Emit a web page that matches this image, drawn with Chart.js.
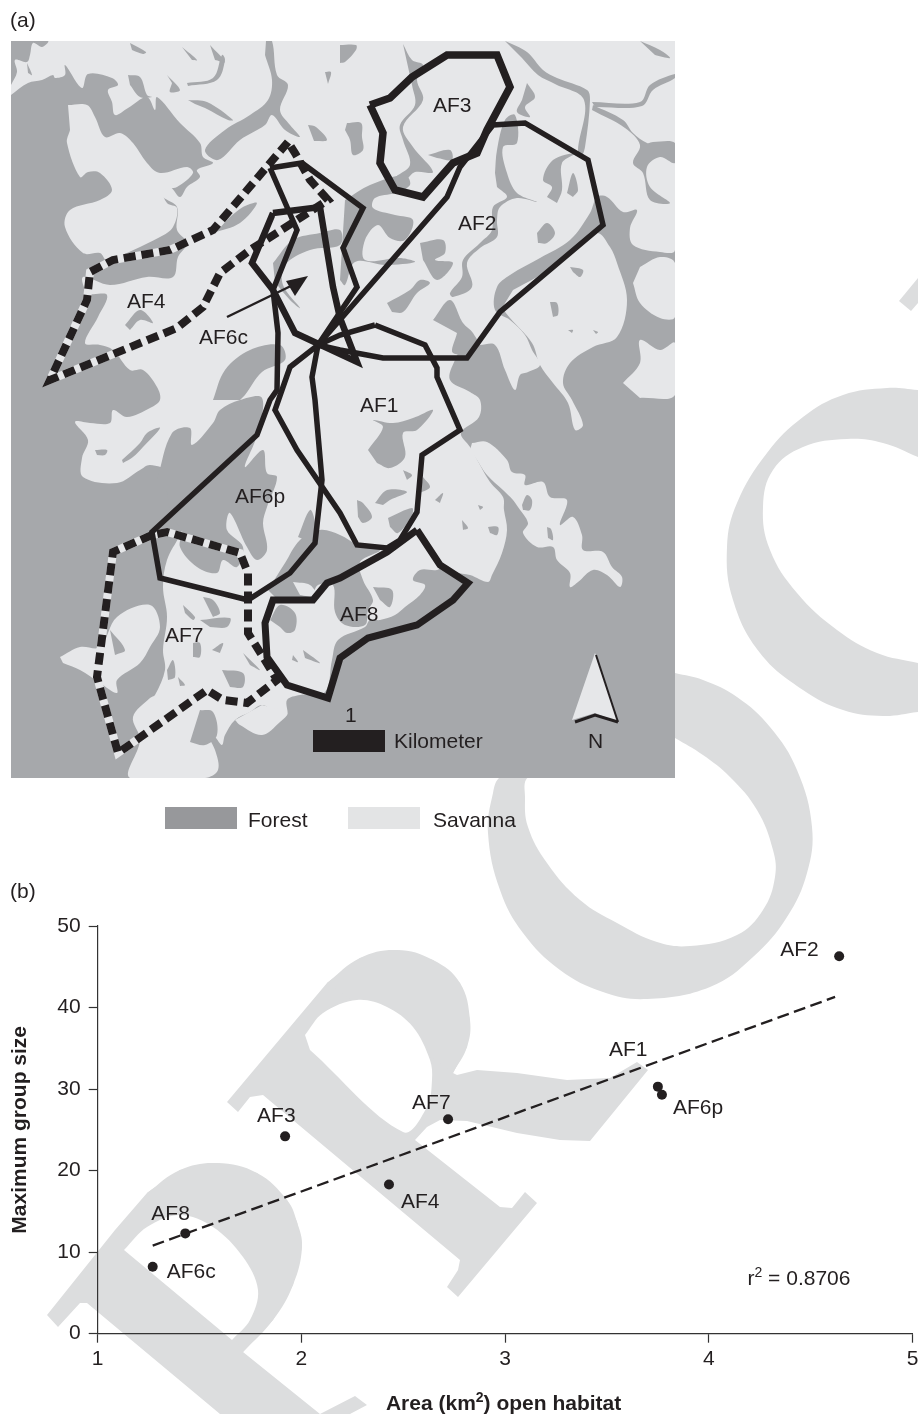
<!DOCTYPE html>
<html>
<head>
<meta charset="utf-8">
<title>Group size and open habitat</title>
<script src="https://cdn.jsdelivr.net/npm/chart.js@4"></script>
<style>
html,body{margin:0;padding:0;background:#fff;}
canvas{position:absolute;left:0;top:0;}
</style>
</head>
<body>
<canvas id="stampChart" width="918" height="1414"></canvas>
<canvas id="mapChart" width="918" height="1414"></canvas>
<canvas id="scatterChart" width="918" height="1414"></canvas>
<script>
/* -------------------------- scatter data (panel b) -------------------------- */
const groupNames=["AF2","AF1","AF6p","AF7","AF3","AF4","AF8","AF6c"];
const areaKm2=[4.64,3.75,3.77,2.72,1.92,2.43,1.43,1.27];
const maxGroupSize=[46.3,30.3,29.3,26.3,24.2,18.3,12.3,8.2];
const trendX=[1.27,4.62];
const trendY=[10.8,41.3];
const xTicks=[1,2,3,4,5];
const yTicks=[0,10,20,30,40,50];

/* -------------------------- map outlines, in map units (panel a) -------------------------- */
const mapFrame=[[11,41],[675,41],[675,778],[11,778]];
const savannaMain=[[11,41],[675,41],[675,250],[660,252],[633,245],[630,228],[637,210],[623,212],[607,197],[597,197],[590,213],[570,240],[540,258],[510,275],[497,287],[495,310],
  [510,320],[525,335],[532,350],[540,365],[528,372],[520,375],[515,390],[505,370],[495,345],[480,345],[465,345],[455,360],[450,380],[470,392],[480,400],[479,417],[461,433],[470,447],[480,465],[490,482],[503,497],[504,510],[507,530],[502,553],[492,575],[488,582],[470,575],[455,572],[445,565],[437,570],[420,570],[413,580],[425,585],[420,595],[405,607],[395,615],[380,620],[370,620],[365,627],[338,640],[332,660],[325,692],[300,695],[287,700],[287,715],[275,712],[262,705],[250,712],[235,720],[225,735],[222,745],[215,737],[205,730],[215,750],[218,770],[205,778],[130,778],[140,740],[133,717],[150,698],[155,695],[165,670],[163,650],[167,617],[163,587],[167,560],[180,535],[197,497],[177,490],[170,472],[150,465],[140,470],[117,483],[83,477],[82,458],[88,440],[75,422],[90,423],[110,423],[113,410],[127,417],[150,408],[160,400],[157,387],[143,370],[130,370],[113,350],[100,345],[85,343],[98,317],[107,295],[88,293],[83,277],[110,285],[147,277],[173,277],[178,257],[187,243],[177,230],[177,207],[163,197],[160,190],[170,187],[180,197],[187,187],[200,177],[197,170],[213,163],[203,157],[200,143],[180,123],[157,97],[155,110],[147,97],[128,108],[115,115],[112,102],[108,90],[118,85],[112,78],[88,74],[82,88],[65,65],[65,75],[55,78],[53,75],[42,80],[28,83],[11,95]];
const savannaLobe=[[68,105],[87,105],[95,117],[105,137],[120,133],[133,143],[147,163],[160,173],[187,167],[193,173],[177,187],[163,190],[167,203],[177,208],[173,227],[160,237],[107,260],[100,253],[83,253],[65,227],[70,210],[100,200],[112,190],[100,173],[88,172],[80,177],[67,143],[70,130]];
const savannaEast=[[513,290],[537,277],[553,267],[573,253],[597,233],[610,247],[617,263],[627,300],[617,337],[593,347],[570,363],[563,383],[572,400],[583,425],[575,430],[568,403],[553,383],[540,365],[532,343],[510,318],[502,308]];
const savannaIslandE=[[640,267],[660,257],[675,263],[675,317],[660,318],[640,303],[633,283]];
const savannaIslandSE=[[623,383],[640,363],[640,340],[660,350],[675,343],[675,395],[640,398]];
const savannaChain=[[472,443],[487,442],[507,460],[512,472],[525,475],[525,485],[543,482],[550,497],[567,500],[560,525],[573,517],[582,535],[583,550],[603,552],[612,567],[622,577],[620,587],[607,575],[593,570],[578,582],[570,587],[570,573],[557,560],[553,547],[537,547],[523,533],[528,523],[518,507],[513,500],[503,490],[487,475],[477,460],[470,450]];
const savannaWest=[[60,657],[80,647],[100,647],[117,617],[150,605],[160,627],[150,647],[140,663],[117,680],[117,693],[100,683],[80,670],[63,663]];
const savannaSouthTail=[[262,705],[287,713],[280,722],[262,735],[240,725],[235,720]];
const savannaSmall1=[[293,582],[310,585],[317,597],[300,595]];

const forestCorner=[[11,41],[48,41],[42,47],[33,43],[30,55],[27,62],[15,60],[17,72],[11,85]];
const forestNick=[[27,63],[32,75],[28,73]];
const forestNorthRiver=[[266,41],[272,41],[277,75],[288,85],[280,110],[290,125],[300,137],[285,130],[272,115],[265,125],[240,140],[218,160],[205,150],[225,130],[250,115],[268,100],[272,80],[265,55]];
const forestSpot1=[[128,75],[140,77],[147,95],[152,97],[140,97],[130,85]];
const forestSpot2=[[167,75],[180,90],[170,92],[172,83]];
const forestThread1=[[187,83],[213,78],[222,55],[225,60],[217,80],[188,86]];
const forestThread2=[[188,100],[207,102],[233,120],[228,120],[205,108],[195,104]];
const forestThread3=[[130,43],[146,52],[143,54],[132,50]];
const forestThread4=[[182,47],[197,60],[192,60]];
const forestThread5=[[210,45],[225,62],[215,60]];
const forestSpot3=[[308,125],[316,127],[327,140],[314,141]];
const forestSpot4=[[325,72],[331,72],[328,84]];
const forestBelowAF4=[[273,263],[293,240],[320,233],[340,230],[340,245],[310,250],[285,265],[283,285],[300,308],[290,300],[275,282]];
const forestPatchC=[[213,400],[225,370],[250,350],[280,345],[285,360],[262,372],[245,395],[240,400]];
const forestPatchAF4=[[125,325],[140,310],[153,323],[140,320],[130,330]];
const forestBandAF4=[[213,233],[240,223],[257,203],[243,207],[230,217]];
const forestNE=[[340,45],[356,45],[356,50],[345,62],[340,63]];
const forestAF3River=[[403,44],[412,60],[423,65],[417,80],[423,100],[403,127],[413,147],[433,172],[415,172],[405,180],[395,178],[410,165],[403,140],[400,125],[415,105],[412,85]];
const forestAF3Spot=[[428,155],[450,150],[452,160],[437,158]];
const forestCentre=[[345,200],[370,185],[405,175],[410,185],[395,193],[375,198],[373,208],[395,215],[413,220],[405,240],[390,238],[378,225],[365,240],[365,260],[400,258],[415,262],[385,265],[355,262],[345,285],[340,280]];
const forestAF2Oval=[[347,123],[361,123],[362,137],[363,150],[353,155],[350,140],[345,130]];
const forestAF2River=[[495,173],[497,150],[505,120],[515,115],[517,143],[503,147],[507,173],[517,193],[537,202],[517,198],[500,207],[497,220],[497,237],[480,248],[467,263],[472,287],[453,297],[450,293],[462,277],[463,260],[480,243],[492,230],[493,207],[507,197],[497,187]];
const forestAF2A=[[420,243],[443,240],[445,253],[435,260],[453,263],[437,280],[423,260]];
const forestAF2B=[[387,303],[410,290],[420,280],[430,283],[417,293],[403,312],[392,312]];
const forestAF2C=[[433,320],[450,300],[463,323],[473,333],[480,350],[453,353],[457,333]];
const forestAF2Round=[[537,233],[547,223],[555,233],[547,243],[538,243]];
const forestAF2Fork=[[547,197],[552,187],[543,180],[553,160],[577,153],[562,163],[562,190],[557,203]];
const forestAF2Drop=[[567,193],[573,173],[578,190],[573,197]];
const forestNERiver=[[505,41],[527,52],[543,70],[557,78],[587,90],[590,100],[585,147],[581,157],[578,150],[584,100],[555,84],[538,75],[522,58]];
const forestNEBranch=[[527,83],[535,97],[525,107],[530,117],[517,112],[522,100]];
const forestNERiver2=[[593,105],[623,120],[633,133],[647,143],[653,142],[675,143],[675,163],[660,157],[647,167],[650,187],[670,203],[650,200],[643,173],[633,163],[640,145],[625,128],[592,110]];
const forestNERiver3=[[592,102],[640,102],[650,85],[675,74],[675,78],[653,90],[642,106],[595,107]];
const forestNETick=[[640,41],[660,50],[670,58],[655,55]];
const forestEastA=[[550,302],[557,303],[558,315],[553,317]];
const forestEastB=[[570,267],[583,270],[580,277],[573,272]];
const forestEastC=[[568,330],[573,330],[572,333]];
const forestEastD=[[593,330],[598,332],[596,334]];
const forestLakeAF1=[[368,450],[383,427],[373,420],[393,423],[413,418],[433,410],[417,430],[403,433],[405,457],[390,468],[377,463]];
const forestAF1A=[[375,503],[387,490],[407,492],[390,500],[383,505]];
const forestAF1B=[[357,500],[363,503],[372,517],[363,523],[358,517]];
const forestAF1C=[[388,518],[412,508],[412,515],[398,533],[390,527]];
const forestAF1D=[[403,470],[412,475],[407,480]];
const forestAF1E=[[423,477],[430,487],[420,493]];
const forestAF1F=[[435,500],[443,493],[440,503]];
const forestAF1G=[[462,520],[468,528],[463,530]];
const forestAF1H=[[488,527],[498,527],[497,535],[490,533]];
const forestAF1I=[[478,505],[483,507],[480,510]];
const forestChainA=[[522,505],[527,495],[532,500],[530,510],[523,510]];
const forestChainB=[[547,527],[551,529],[553,540],[548,538]];
const forestAF6p=[[157,480],[172,433],[190,428],[192,445],[213,423],[220,410],[240,400],[262,398],[257,435],[245,467],[263,450],[267,473],[277,477],[267,507],[263,523],[267,550],[257,560],[247,547],[230,513],[227,530],[243,547],[237,567],[223,560],[217,573],[197,567],[180,547],[182,530],[172,517],[167,492]];
const forestCentreSouth=[[268,590],[285,563],[300,540],[320,530],[340,535],[358,545],[380,550],[360,562],[363,580],[373,600],[368,610],[365,625],[345,625],[335,612],[333,585],[318,585],[310,597],[275,597]];
const forestAF1South=[[298,537],[310,510],[315,523],[313,543]];
const forestRiverW=[[122,460],[140,443],[147,433],[160,428],[143,447],[133,457],[123,463]];
const forestSpotW=[[95,450],[107,450],[105,455],[97,455]];
const forestAF7A=[[203,597],[213,600],[220,613],[213,617]];
const forestAF7B=[[183,605],[195,617],[193,620],[185,613]];
const forestAF7C=[[200,620],[230,618],[227,627],[210,627]];
const forestAF7D=[[193,643],[200,643],[200,657],[193,657]];
const forestAF7E=[[212,650],[223,643],[220,653]];
const forestAF7F=[[243,653],[260,670],[250,665]];
const forestAF7G=[[167,670],[173,660],[175,677],[168,680]];
const forestAF7H=[[178,677],[185,685],[180,686]];
const forestAF7I=[[222,670],[243,673],[243,687],[230,687]];
const forestAF7J=[[200,710],[213,712],[217,735],[205,745],[190,742]];
const forestAF8A=[[270,620],[280,605],[295,613],[295,630],[287,633],[280,627]];
const forestAF8B=[[293,655],[298,662],[292,660]];
const forestAF8C=[[303,650],[320,663],[305,658]];
const forestAF8D=[[373,587],[392,590],[390,607],[380,600]];
const forestWestSpot=[[110,630],[125,650],[115,655]];

const savannaPolys=[savannaMain,savannaLobe,savannaEast,savannaIslandE,savannaIslandSE,savannaChain,savannaWest];
const forestPolys=[forestCorner,forestNick,forestNorthRiver,forestSpot1,forestSpot2,forestThread1,forestThread2,forestThread3,forestThread4,forestThread5,forestSpot3,forestSpot4,forestBelowAF4,forestPatchC,forestPatchAF4,forestBandAF4,forestNE,forestAF3River,forestAF3Spot,forestCentre,forestAF2Oval,forestAF2River,forestAF2A,forestAF2B,forestAF2C,forestAF2Round,forestAF2Fork,forestAF2Drop,forestNERiver,forestNEBranch,forestNERiver2,forestNERiver3,forestNETick,forestEastA,forestEastB,forestEastC,forestEastD,forestLakeAF1,forestAF1A,forestAF1B,forestAF1C,forestAF1D,forestAF1E,forestAF1F,forestAF1G,forestAF1H,forestAF1I,forestChainA,forestChainB,forestAF6p,forestCentreSouth,forestAF1South,forestRiverW,forestSpotW,forestAF7A,forestAF7B,forestAF7C,forestAF7D,forestAF7E,forestAF7F,forestAF7G,forestAF7H,forestAF7I,forestAF7J,forestAF8A,forestAF8B,forestAF8C,forestAF8D,forestWestSpot];
const savannaOnTop=[savannaSouthTail,savannaSmall1];

const rangeAF1=[[375,325],[425,345],[437,368],[437,377],[460,430],[422,455],[417,512],[400,540],[387,548],[357,545],[340,513],[297,450],[275,410],[290,367],[318,345],[340,335],[375,325]];
const rangeAF2=[[318,345],[447,197],[460,167],[493,125],[525,123],[588,160],[603,225],[500,312],[467,358],[383,358],[340,350],[318,345]];
const rangeAF3=[[370,105],[390,98],[412,77],[447,55],[497,55],[510,87],[487,130],[477,153],[453,163],[423,197],[395,190],[380,163],[383,133],[370,105]];
const rangeAF4=[[288,142],[213,230],[170,250],[113,260],[90,272],[87,300],[50,380],[177,328],[203,307],[220,273],[250,250],[328,200],[310,180],[295,153],[288,142]];
const rangeAF6c=[[273,213],[320,207],[333,287],[340,318],[357,362],[295,333],[273,290],[252,263],[273,213]];
const rangeAF6p=[[270,168],[302,163],[363,208],[343,248],[357,287],[318,345],[312,377],[315,400],[322,480],[315,543],[290,573],[248,600],[160,578],[152,532],[257,435],[270,400],[277,390],[278,333],[273,290],[297,230],[270,168]];
const rangeAF7=[[152,535],[113,552],[97,677],[118,753],[207,690],[223,700],[247,703],[277,680],[263,657],[248,633],[248,573],[240,553],[167,532],[152,535]];
const rangeAF8=[[417,530],[440,565],[468,583],[453,600],[417,625],[368,638],[340,658],[328,698],[287,685],[267,657],[265,623],[273,600],[313,600],[327,583],[340,578],[387,552],[417,530]];
const arrowShaft=[[227,317],[297,283]];
const arrowHead=[[308,276],[286,281],[295,296]];
const scaleBar=[[313,730],[385,730],[385,752],[313,752]];
const northFill=[[595,653],[572,720],[595,713],[618,722]];
const northEdgeRight=[[596,655],[618,722]];
const northEdgeBase=[[575,722],[595,715],[618,722]];
const legendForest=[[165,807],[237,807],[237,829],[165,829]];
const legendSavanna=[[348,807],[420,807],[420,829],[348,829]];

/* -------------------------- grey PROOF stamp behind the figure -------------------------- */
const stampPOuter=[[47,1315],[58,1327],[80,1303],[87,1303],[220,1414],[350,1414],[367,1405],[355,1396],[320,1414],[243,1352],[273,1320],[293,1285],[302,1247],[297,1222],[287,1200],[257,1173],[217,1163],[180,1170],[147,1193],[115,1230]];
const stampPBowl=[[243,1352],[273,1320],[293,1285],[302,1247],[297,1222],[287,1200],[257,1173],[217,1163],[180,1170],[147,1193]];
const stampPHole=[[124,1250],[147,1227],[180,1215],[213,1227],[243,1257],[258,1290],[250,1320],[232,1340]];
const stampROuter=[[227,1102],[238,1112],[250,1097],[263,1095],[460,1260],[458,1270],[447,1287],[458,1297],[537,1203],[525,1192],[512,1208],[500,1207],[415,1140],[427,1127],[440,1120],[467,1121],[517,1133],[560,1140],[590,1141],[648,1070],[637,1062],[610,1078],[567,1080],[517,1073],[477,1070],[457,1075],[453,1073],[467,1047],[470,1020],[460,983],[433,960],[397,950],[360,958],[327,983]];
const stampRBowl=[[453,1073],[467,1047],[470,1020],[460,983],[433,960],[397,950],[360,958],[327,983]];
const stampRHole=[[305,1035],[323,1013],[357,1000],[387,1007],[413,1027],[430,1060],[432,1080],[427,1107],[403,1132],[310,1050]];
const stampO1Outer=[[675,673],[703,680],[737,697],[770,727],[797,770],[812,827],[807,873],[787,917],[753,957],[710,987],[647,999],[603,992],[560,970],[523,933],[500,890],[488,833],[493,793],[500,777],[600,700]];
const stampO1Hole=[[675,738],[703,755],[730,777],[757,810],[773,850],[775,877],[763,910],[737,935],[690,946],[657,942],[617,923],[580,900],[547,863],[528,827],[525,797],[528,777],[600,720]];
const stampO2Outer=[[918,390],[887,388],[843,395],[803,417],[767,453],[737,503],[727,547],[733,600],[760,653],[803,690],[843,710],[883,716],[918,712]];
const stampO2Hole=[[918,457],[883,443],[847,439],[803,447],[773,470],[763,507],[770,550],[797,593],[837,630],[877,653],[918,663]];
const stampF=[[918,278],[899,301],[911,311],[918,303]];

const mapTexts=[
  {t:"(a)",x:10,y:27},{t:"AF3",x:433,y:112},{t:"AF2",x:458,y:230},{t:"AF4",x:127,y:308},{t:"AF6c",x:199,y:344},
  {t:"AF1",x:360,y:412},{t:"AF6p",x:235,y:503},{t:"AF7",x:165,y:642},{t:"AF8",x:340,y:621},{t:"1",x:345,y:722},
  {t:"Kilometer",x:394,y:748},{t:"N",x:588,y:748},{t:"Forest",x:248,y:827},{t:"Savanna",x:433,y:827},{t:"(b)",x:10,y:898}
];
// where each scatter label sits relative to its dot
const labelDx=[-59,-49,11,-36,-28,12,-34,14];
const labelDy=[0,-31,19,-10,-14,24,-13,11];

const INK="#231f20", FOREST="#a6a8ab", SAVANNA="#e6e7e9", STAMP="#dcddde", FONT="Liberation Sans";

const toXY=pts=>pts.map(p=>({x:p[0],y:p[1]}));
const poly=(pts,color,tension)=>({data:toXY(pts),backgroundColor:color,borderWidth:0,fill:"shape",pointRadius:0,tension:tension||0});
const stroke=(pts,w,extra)=>Object.assign({data:toXY(pts),borderColor:INK,borderWidth:w,fill:false,pointRadius:0,tension:0,borderJoinStyle:"miter",borderCapStyle:"butt"},extra||{});
const quiet={legend:{display:false},tooltip:{enabled:false}};

/* -------------------------- stamp + legend patches, full page -------------------------- */
// chart js paints the first dataset last, so build bottom-up and flip
const stampLayers=[
  poly(stampO1Outer,STAMP,.4),poly(stampO1Hole,"#fff",.4),
  poly(stampO2Outer,STAMP,.4),poly(stampO2Hole,"#fff",.4),poly(stampF,STAMP),
  poly(stampROuter,STAMP),poly(stampRBowl,STAMP,.4),poly(stampRHole,"#fff",.35),
  poly(stampPOuter,STAMP),poly(stampPBowl,STAMP,.4),poly(stampPHole,"#fff",.35),
  poly(legendForest,"#97989b"),poly(legendSavanna,"#e3e4e5")
].reverse();

new Chart(document.getElementById("stampChart"),{
  type:"line",
  data:{datasets:stampLayers},
  options:{
    responsive:false,animation:false,plugins:quiet,
    scales:{
      x:{type:"linear",display:false,min:0,max:918},
      y:{type:"linear",display:false,min:0,max:1414,reverse:true}
    }
  }
});

/* -------------------------- map, chart area is the map frame -------------------------- */
const textPlugin={
  id:"mapText",
  afterDatasetsDraw(chart){
    const {ctx,scales:{x,y}}=chart;
    ctx.save();
    ctx.font=`21px "${FONT}"`; ctx.fillStyle=INK; ctx.textBaseline="alphabetic"; ctx.textAlign="left";
    mapTexts.forEach(l=>ctx.fillText(l.t,x.getPixelForValue(l.x),y.getPixelForValue(l.y)));
    ctx.restore();
  }
};

const mapLayers=[
  poly(mapFrame,FOREST),
  ...savannaPolys.map(p=>poly(p,SAVANNA,.35)),
  ...forestPolys.map(p=>poly(p,FOREST,.35)),
  ...savannaOnTop.map(p=>poly(p,SAVANNA,.35)),
  stroke(rangeAF4,8,{borderColor:SAVANNA}),stroke(rangeAF4,8,{borderDash:[12,6]}),
  stroke(rangeAF7,8,{borderColor:SAVANNA}),stroke(rangeAF7,8,{borderDash:[12,6]}),
  stroke(rangeAF2,5.5),stroke(rangeAF1,5.5),stroke(rangeAF6p,5.5),
  stroke(rangeAF6c,6.5),stroke(rangeAF3,7.5),stroke(rangeAF8,7),
  stroke(arrowShaft,2.5),poly(arrowHead,INK),
  poly(scaleBar,INK),
  poly(northFill,SAVANNA),stroke(northEdgeRight,2),stroke(northEdgeBase,3)
].reverse();

new Chart(document.getElementById("mapChart"),{
  type:"line",
  data:{datasets:mapLayers},
  options:{
    responsive:false,animation:false,plugins:quiet,
    layout:{padding:{left:11,right:243,top:41,bottom:636}},
    scales:{
      x:{type:"linear",display:false,min:11,max:675},
      y:{type:"linear",display:false,min:41,max:778,reverse:true}
    }
  },
  plugins:[textPlugin]
});

/* -------------------------- scatter chart -------------------------- */
// run of text where one piece is raised, for the r2 note and the km2 title
function drawRaised(ctx,parts,px,py,weight){
  let cx=px;
  parts.forEach(p=>{
    ctx.font=`${weight} ${p.sup?14:21}px "${FONT}"`;
    ctx.fillText(p.t,cx,p.sup?py-8:py);
    cx+=ctx.measureText(p.t).width;
  });
}

const scatterLabels={
  id:"scatterLabels",
  afterDatasetsDraw(chart){
    const {ctx,scales:{x,y}}=chart;
    ctx.save();
    ctx.font=`21px "${FONT}"`; ctx.fillStyle=INK; ctx.textBaseline="alphabetic"; ctx.textAlign="left";
    groupNames.forEach((n,i)=>ctx.fillText(n,x.getPixelForValue(areaKm2[i])+labelDx[i],y.getPixelForValue(maxGroupSize[i])+labelDy[i]));
    drawRaised(ctx,[{t:"r"},{t:"2",sup:true},{t:" = 0.8706"}],x.getPixelForValue(4.19),y.getPixelForValue(6),"normal");
    drawRaised(ctx,[{t:"Area (km"},{t:"2",sup:true},{t:") open habitat"}],x.getPixelForValue(2.415),y.getPixelForValue(-9.4),"bold");
    ctx.restore();
  }
};

new Chart(document.getElementById("scatterChart"),{
  type:"scatter",
  data:{datasets:[
    {data:areaKm2.map((v,i)=>({x:v,y:maxGroupSize[i]})),backgroundColor:INK,borderColor:INK,pointRadius:5,pointBorderWidth:0},
    {data:trendX.map((v,i)=>({x:v,y:trendY[i]})),showLine:true,borderColor:INK,borderWidth:2.3,borderDash:[12,5.5],pointRadius:0,fill:false}
  ]},
  options:{
    responsive:false,animation:false,plugins:quiet,
    layout:{padding:{left:8,right:5.5,top:926,bottom:0}},
    scales:{
      x:{
        type:"linear",min:1,max:5,
        afterBuildTicks(s){s.ticks=xTicks.map(v=>({value:v}));},
        afterFit(s){s.height=80.3;s.paddingRight=0;s.paddingLeft=0;},
        grid:{drawOnChartArea:false,tickLength:9,tickColor:"#333",tickWidth:1.2},
        border:{color:"#333",width:1.2},
        ticks:{color:INK,font:{family:FONT,size:21},padding:4,maxRotation:0}
      },
      y:{
        type:"linear",min:0,max:50,
        afterBuildTicks(s){s.ticks=yTicks.map(v=>({value:v}));},
        afterFit(s){s.width=89.7;},
        grid:{drawOnChartArea:false,tickLength:9,tickColor:"#333",tickWidth:1.2},
        border:{color:"#333",width:1.2},
        ticks:{color:INK,font:{family:FONT,size:21},padding:8},
        title:{display:true,text:"Maximum group size",color:INK,font:{family:FONT,size:21,weight:"bold"},padding:{top:0,bottom:5}}
      }
    }
  },
  plugins:[scatterLabels]
});
</script>
</body>
</html>
